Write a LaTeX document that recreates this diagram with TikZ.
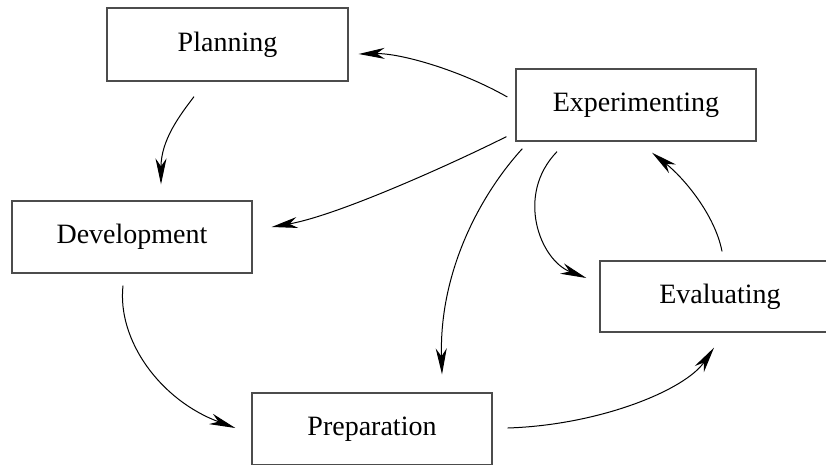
\documentclass[tikz,border=0pt]{standalone}
\usepackage{fontspec}
\setmainfont{Liberation Serif}
\usetikzlibrary{arrows.meta}
\begin{document}
\begin{tikzpicture}[x=1pt,y=-1pt,
  stagebox/.style={draw=black!70,line width=1.3pt,fill=white,
    minimum width=240pt,minimum height=72pt,inner sep=0pt,
    font=\fontsize{28}{34}\selectfont},
  flow/.style={line width=1pt,-{Stealth[length=26pt,width=11pt,inset=8pt]}}]
\useasboundingbox[fill=white] (0,0) rectangle (826,464);

\node[stagebox,minimum width=241pt,minimum height=73pt] (plan) at (227.5,44.5) {Planning};
\node[stagebox] (exp)  at (636,105) {Experimenting};
\node[stagebox] (dev)  at (132,237) {Development};
\node[stagebox,minimum height=71pt] (eval) at (720,296.5) {Evaluating};
\node[stagebox] (prep) at (372,429) {Preparation};

% Experimenting -> Planning
\draw[flow] ([shift={(-8,-8)}]exp.west) .. controls (460,70) and (400,53) .. ([shift={(10,9.5)}]plan.east);
% Planning -> Development
\draw[flow] ([shift={(-33.5,15)}]plan.south) .. controls (180,115) and (161,140) .. ([shift={(29,-16)}]dev.north);
% Experimenting -> Development
\draw[flow] ([shift={(-9,-5)}]exp.south west) .. controls (460,160) and (340,215) .. ([shift={(19,-10)}]dev.east);
% Experimenting -> Preparation
\draw[flow] ([shift={(7,7)}]exp.south west) .. controls (480,195) and (439,272) .. ([shift={(70,-18)}]prep.north);
% Experimenting -> Evaluating
\draw[flow] ([shift={(-79,10)}]exp.south) .. controls (515,195) and (540,260) .. ([shift={(-13,-18.5)}]eval.west);
% Evaluating -> Experimenting
\draw[flow] ([shift={(2,-9)}]eval.north) .. controls (715,215) and (684,178) .. ([shift={(16,11)}]exp.south);
% Preparation -> Evaluating
\draw[flow] ([shift={(15,-1)}]prep.east) .. controls (600,425) and (685,390) .. ([shift={(-6,15)}]eval.south);
% Development -> Preparation
\draw[flow] ([shift={(-9,12)}]dev.south) .. controls (117,340) and (160,400) .. ([shift={(-16,-1)}]prep.west);
\end{tikzpicture}
\end{document}
